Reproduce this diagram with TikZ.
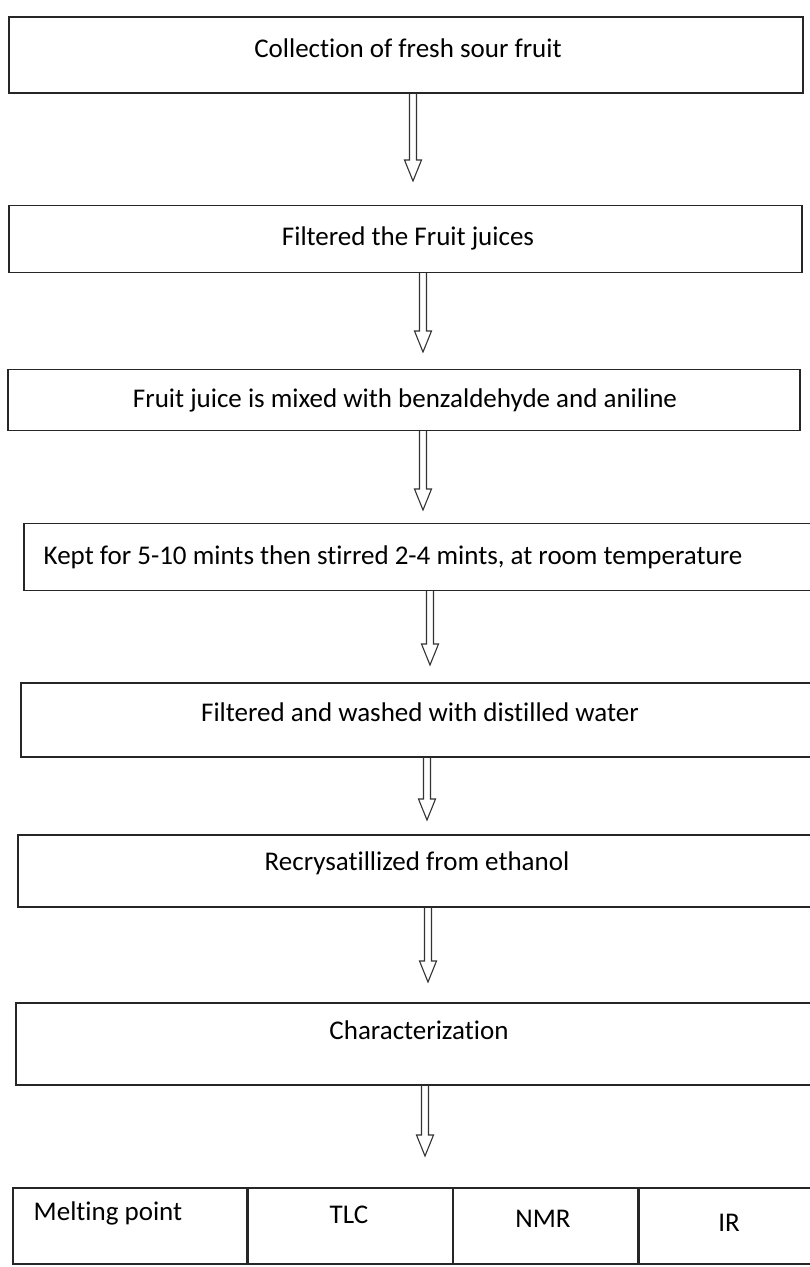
\documentclass[tikz,border=0pt]{standalone}
\usepackage{fontspec}
\setmainfont[Ligatures=NoCommon]{Carlito}
\usetikzlibrary{calc}
\tikzset{
  stepbox/.style={draw=black!85, line width=1.3pt, rectangle, inner sep=0pt},
  lbl/.style={inner sep=0pt, font=\fontsize{27}{31}\selectfont, text=black},
  harrow/.style={draw=black!80, line width=1.1pt, line join=miter},
}
% hollow double-shaft arrow from #1 to tip #2
\newcommand{\hollowarrow}[2]{%
  \draw[harrow] ($(#1)+(-3.5,0)$) -- ($(#2)+(-3.5,-21)$) -- ($(#2)+(-8.5,-21)$) -- (#2)
    -- ($(#2)+(8.5,-21)$) -- ($(#2)+(3.5,-21)$) -- ($(#1)+(3.5,0)$);}
\begin{document}
\begin{tikzpicture}[x=1pt,y=-1pt]
\useasboundingbox[fill=white] (0,0) rectangle (809,1267);

% boxes
\node[stepbox, minimum width=794, minimum height=76] (b1) at (406,55) {};
\node[lbl] (t1) at (408,48) {Collection of fresh sour fruit};

\node[stepbox, minimum width=793, minimum height=67] (b2) at (405.5,239) {};
\node[lbl] (t2) at (408,238) {Filtered the Fruit juices};

\node[stepbox, minimum width=792, minimum height=61] (b3) at (404,400) {};
\node[lbl] (t3) at (405,400) {Fruit juice is mixed with benzaldehyde and aniline};

\node[stepbox, minimum width=790, minimum height=67] (b4) at (419,557) {};
\node[lbl] (t4) at (393,557) {Kept for 5-10 mints then stirred 2-4 mints, at room temperature};

\node[stepbox, minimum width=792, minimum height=74] (b5) at (417,720) {};
\node[lbl] (t5) at (420,712) {Filtered and washed with distilled water};

\node[stepbox, minimum width=795, minimum height=72] (b6) at (415.5,871) {};
\node[lbl] (t6) at (417,863) {Recrysatillized from ethanol};

\node[stepbox, minimum width=797, minimum height=82] (b7) at (414.5,1044) {};
\node[lbl] (t7) at (419,1030) {Characterization};

% bottom row
\node[stepbox, minimum width=234, minimum height=76] (c1) at (130,1226) {};
\node[lbl] (u1) at (108,1213) {Melting point};
\node[stepbox, minimum width=204, minimum height=76, anchor=west] (c2) at (c1.east) {};
\node[lbl] (u2) at (349,1215) {TLC};
\node[stepbox, minimum width=184, minimum height=76, anchor=west] (c3) at (c2.east) {};
\node[lbl] (u3) at (543,1219) {NMR};
\node[stepbox, minimum width=190, minimum height=76, anchor=west] (c4) at (c3.east) {};
\node[lbl] (u4) at (729,1223) {IR};

% arrow tips
\coordinate (e1) at (413,181);
\coordinate (e2) at (423,352);
\coordinate (e3) at (423,510);
\coordinate (e4) at (430,665);
\coordinate (e5) at (427,820);
\coordinate (e6) at (428,982);
\coordinate (e7) at (425,1156);

\hollowarrow{b1.south -| e1}{e1}
\hollowarrow{b2.south -| e2}{e2}
\hollowarrow{b3.south -| e3}{e3}
\hollowarrow{b4.south -| e4}{e4}
\hollowarrow{b5.south -| e5}{e5}
\hollowarrow{b6.south -| e6}{e6}
\hollowarrow{b7.south -| e7}{e7}
\end{tikzpicture}
\end{document}
